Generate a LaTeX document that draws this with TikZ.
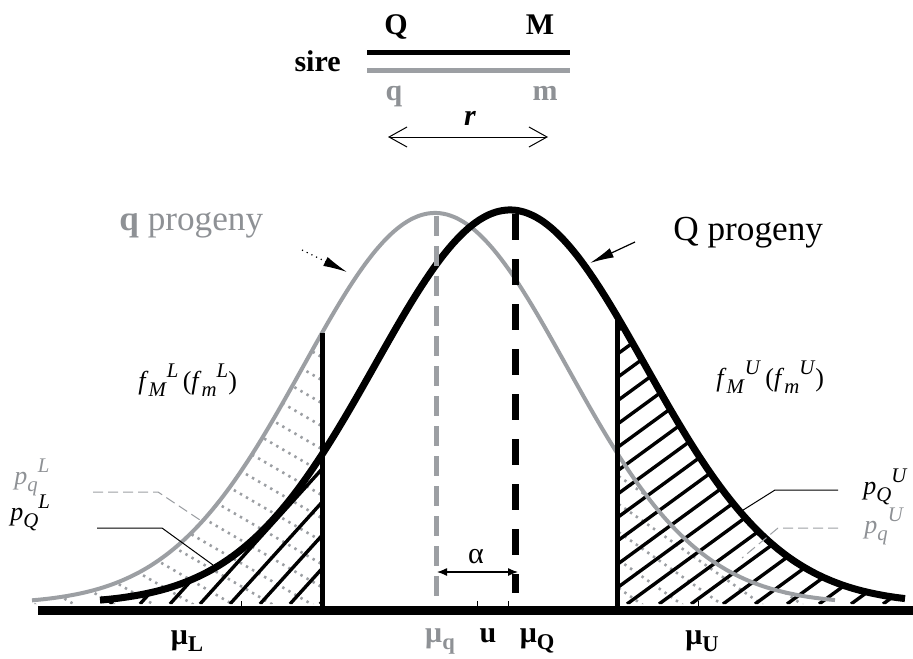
\documentclass[tikz,border=0pt]{standalone}
\usepackage{fontspec}
\setmainfont{Liberation Serif}
\usepackage{graphicx}
\usepackage{tikz}
\usetikzlibrary{arrows.meta}
\definecolor{qgrey}{HTML}{9C9FA3}
\definecolor{qtext}{HTML}{8E9195}
\newcommand{\sslab}[3]{\textit{#1}\raisebox{-0.28em}{\scalebox{0.8}{\textit{#2}}}\raisebox{0.45em}{\scalebox{0.8}{\textit{#3}}}}
\newcommand{\mulab}[1]{\textbf{μ}\raisebox{-0.25em}{\scalebox{0.75}{\textbf{#1}}}}

\begin{document}
\begin{tikzpicture}[x=0.5pt, y=-0.5pt,
  declare function={gq(\t)=604-391*exp(-0.5*((\t-435)/132)^2);
                    gQ(\t)=604-394*exp(-0.5*((\t-510)/135)^2);},
  head/.style={inner sep=0pt, font=\fontsize{15}{17}\selectfont\bfseries},
  big/.style={inner sep=0pt, font=\fontsize{17.6}{20}\selectfont},
  lbl/.style={inner sep=0pt, font=\fontsize{13}{15}\selectfont},
  mu/.style={inner sep=0pt, font=\fontsize{15}{17}\selectfont},
  qcurve/.style={qgrey, line width=2pt},
  Qcurve/.style={black, line width=3.5pt},
  qhatch/.style={qgrey, line width=1.3pt, dash pattern=on 1.2pt off 2.3pt},
  Qhatch/.style={black, line width=1.7pt},
  cut/.style={black, line width=2.5pt},
  qmean/.style={qgrey, line width=2.5pt, dash pattern=on 10pt off 5pt},
  Qmean/.style={black, line width=3.5pt, dash pattern=on 13pt off 9.5pt},
  leader/.style={line width=0.5pt},
  ptr/.style={-{Latex[length=12pt, width=5pt]}, line width=0.6pt},
  barb/.style={{Straight Barb[length=9pt, width=10pt]}-{Straight Barb[length=9pt, width=10pt]}, line width=0.5pt},
  meanshift/.style={{Latex[length=5pt, width=4pt]}-{Latex[length=5pt, width=4pt]}, line width=0.6pt}
]
\useasboundingbox (0,0) rectangle (913,658);

% sire
\node[head, anchor=base east] (sire) at (341,72) {sire};
\node[head, anchor=base] (Q) at (396,35) {Q};
\node[head, anchor=base] (M) at (540,35) {M};
\node[head, text=qtext, anchor=base] (q) at (394,100) {q};
\node[head, text=qtext, anchor=base] (m) at (545,100) {m};
\node[head, anchor=base] (r) at (470,125) {\textit{r}};
\coordinate (Qs) at (367,53);
\coordinate (Ms) at (570,53);
\coordinate (qs) at (367,71);
\coordinate (ms) at (570,71);
\coordinate (rl) at (388,137);
\coordinate (rr) at (548,137);
\draw[black, line width=2.5pt] (Qs) -- (Ms);
\draw[qgrey, line width=2.5pt] (qs) -- (ms);
\draw[barb] (rl) -- (rr);

% hatching
\begin{scope}
  \clip plot[domain=32:322, samples=40] (\x,{gq(\x)}) -- (322,604) -- (32,604) -- cycle;
  \foreach \k in {-14,...,14}
    \draw[qhatch] (22,587+23*\k-174) -- (332,587+23*\k+6);
\end{scope}
\begin{scope}
  \clip plot[domain=100:322, samples=40] (\x,{gQ(\x)}) -- (322,604) -- (100,604) -- cycle;
  \foreach \k in {0,...,9}
    \draw[Qhatch] (320-30*\k,604) -- ++(150,-166);
\end{scope}
\begin{scope}
  \clip plot[domain=617:835, samples=40] (\x,{gq(\x)}) -- (835,604) -- (617,604) -- cycle;
  \foreach \k in {0,...,14}
    \draw[qhatch] (567,587-28*\k-35) -- (917,587-28*\k+210);
\end{scope}
\begin{scope}
  \clip plot[domain=617:905, samples=40] (\x,{gQ(\x)}) -- (905,604) -- (617,604) -- cycle;
  \foreach \k in {-12,...,10}
    \draw[Qhatch] (627+32*\k,604) -- ++(400,-292);
\end{scope}

% progeny densities
\draw[qcurve] plot[domain=32:835, samples=90, smooth] (\x,{gq(\x)});
\draw[Qcurve] plot[domain=100:905, samples=90, smooth] (\x,{gQ(\x)});
\draw[cut] (322,{gq(322)}) -- (322,606);
\draw[cut] (617,{gQ(617)}) -- (617,606);
\draw[qmean] (436,216) -- (436,606);
\draw[Qmean] (515,214) -- (515,593);
\draw[line width=4.5pt] (38,610) -- (913,610);
\foreach \t in {241,477,508,698}
  \draw[line width=0.5pt] (\t,606) -- (\t,601);

% shift between means
\coordinate (al) at (437,572);
\coordinate (ar) at (518,572);
\draw[meanshift] (al) -- (ar);
\node[mu, anchor=base] (alpha) at (476,563) {α};

% curve names
\node[big, anchor=base west] (qprog) at (119,230) {\textcolor{qtext}{\textbf{q} progeny}};
\node[big, anchor=base west] (Qprog) at (673,240) {Q progeny};
\coordinate (qtail) at (302,250);
\coordinate (qtip) at (347,272);
\coordinate (Qtail) at (635,242);
\coordinate (Qtip) at (590,263);
\draw[ptr, dotted] (qtail) -- (qtip);
\draw[ptr] (Qtail) -- (Qtip);

% tail labels
\node[lbl, anchor=base west] (fL) at (138,389) {\sslab{f}{M}{L}\,(\sslab{f}{m}{L})};
\node[lbl, anchor=base west] (fU) at (716,386) {\sslab{f}{M}{U}\,(\sslab{f}{m}{U})};
\node[lbl, text=qtext, anchor=base west] (pqL) at (14,484) {\sslab{p}{q}{L}};
\node[lbl, anchor=base west] (pQL) at (10,520) {\sslab{p}{Q}{L}};
\node[lbl, anchor=base west] (pQU) at (863,494) {\sslab{p}{Q}{U}};
\node[lbl, text=qtext, anchor=base west] (pqU) at (864,533) {\sslab{p}{q}{U}};
\coordinate (pqLa) at (93,492);
\coordinate (pqLb) at (158,492);
\coordinate (pqLc) at (200,520);
\coordinate (pQLa) at (97,528);
\coordinate (pQLb) at (162,528);
\coordinate (pQLc) at (213,565);
\coordinate (pQUa) at (838,490);
\coordinate (pQUb) at (775,490);
\coordinate (pQUc) at (740,512);
\coordinate (pqUa) at (838,528);
\coordinate (pqUb) at (778,528);
\coordinate (pqUc) at (742,558);
\draw[leader, qgrey, dash pattern=on 5pt off 2.5pt] (pqLa) -- (pqLb) -- (pqLc);
\draw[leader] (pQLa) -- (pQLb) -- (pQLc);
\draw[leader] (pQUa) -- (pQUb) -- (pQUc);
\draw[leader, qgrey, dash pattern=on 5pt off 2.5pt] (pqUa) -- (pqUb) -- (pqUc);

% means on the axis
\node[mu, anchor=base] (muL) at (187,644) {\mulab{L}};
\node[mu, text=qtext, anchor=base] (muq) at (440,642) {\mulab{q}};
\node[mu, anchor=base] (mu) at (488,642) {\textbf{u}};
\node[mu, anchor=base] (muQ) at (537,642) {\mulab{Q}};
\node[mu, anchor=base] (muU) at (702,644) {\mulab{U}};
\end{tikzpicture}
\end{document}
